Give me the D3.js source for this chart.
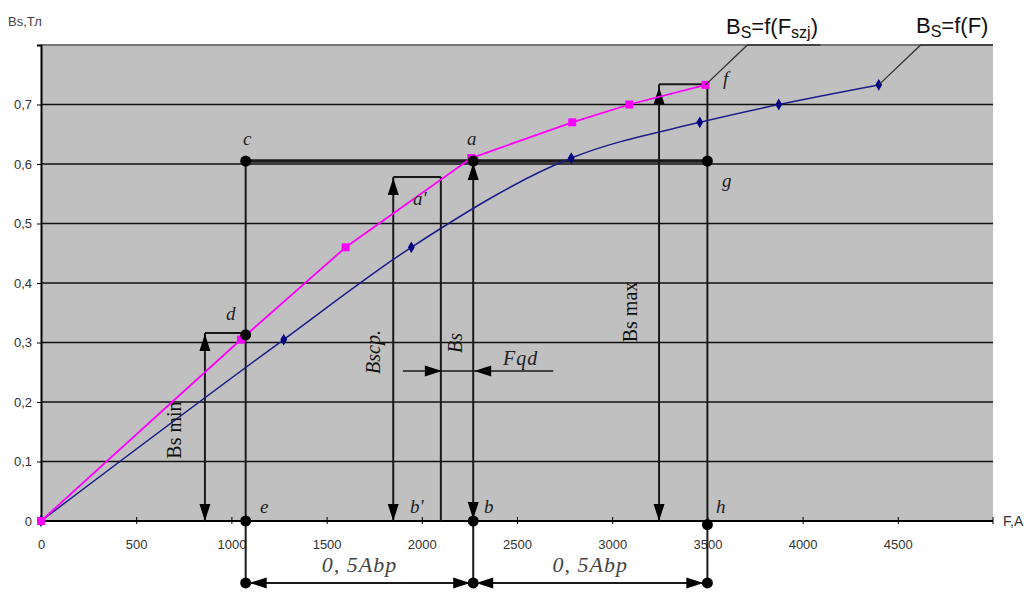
<!DOCTYPE html>
<html><head><meta charset="utf-8">
<script src="https://cdn.jsdelivr.net/npm/d3@7"></script>
<style>html,body{margin:0;padding:0;background:#fff;}svg{display:block;}</style>
</head><body>
<svg id="chart" width="1035" height="592"></svg>
<script>
// ---- data ----
const xTicks = [0, 500, 1000, 1500, 2000, 2500, 3000, 3500, 4000, 4500];
const yTicks = [0, 0.1, 0.2, 0.3, 0.4, 0.5, 0.6, 0.7];
const szjF = [0, 1050, 1600, 2260, 2790, 3090, 3490];
const szjB = [0, 0.305, 0.46, 0.61, 0.67, 0.70, 0.733];
const fullF = [0, 1275, 1945, 2785, 3460, 3875, 4400];
const fullB = [0, 0.305, 0.46, 0.61, 0.67, 0.70, 0.733];
// annotation values (F in A, B in T)
const F_e = 1075, F_bp = 1850, F_bs = 2100, F_b = 2270, F_min = 861, F_max = 3246, F_h = 3500;
const B_c = 0.605, B_d = 0.313, B_scp = 0.578, B_min = 0.316, B_max = 0.734, B_fqd = 0.252, B_brk = -0.104;

const svg = d3.select('#chart');
const x = d3.scaleLinear().domain([0, 5000]).range([41, 993]);
const y = d3.scaleLinear().domain([0, 0.8]).range([521, 45]);

// plot background
svg.append('rect').attr('x', x(0)).attr('y', y(0.8)).attr('width', x(5000) - x(0)).attr('height', y(0) - y(0.8)).attr('fill', '#c0c0c0');
// top border
svg.append('line').attr('x1', x(0)).attr('x2', x(5000)).attr('y1', y(0.8)).attr('y2', y(0.8)).attr('stroke', '#777').attr('stroke-width', 2);
// gridlines
svg.append('g').selectAll('line').data(yTicks.filter(d => d > 0)).join('line')
  .attr('x1', x(0)).attr('x2', x(5000)).attr('y1', d => y(d)).attr('y2', d => y(d))
  .attr('stroke', '#111').attr('stroke-width', 1.6);

// axes
const fmt = d => d === 0 ? '0' : d3.format('.1f')(d).replace('.', ',');
const yAxis = svg.append('g').attr('transform', `translate(${x(0)},0)`)
  .call(d3.axisLeft(y).tickValues(yTicks).tickSize(4).tickFormat(fmt));
yAxis.select('.domain').attr('stroke', '#000').attr('stroke-width', 2);
yAxis.selectAll('text').attr('font-family', 'Arial, Liberation Sans, sans-serif').attr('font-size', 13).attr('fill', '#333').attr('dx', -2);

const xAxis = svg.append('g').attr('transform', `translate(0,${y(0)})`)
  .call(d3.axisBottom(x).tickValues(xTicks).tickSize(4).tickFormat(d => String(d)));
xAxis.select('.domain').attr('stroke', '#000').attr('stroke-width', 2).attr('d', `M${x(0)},0H${x(5000)}`);
xAxis.selectAll('.tick line').attr('y1', -4).attr('y2', 3);
xAxis.selectAll('text').attr('font-family', 'Arial, Liberation Sans, sans-serif').attr('font-size', 13).attr('fill', '#333').attr('dy', '1.6em');
// end tick at 5000
svg.append('line').attr('x1', x(5000)).attr('x2', x(5000)).attr('y1', y(0) - 4).attr('y2', y(0) + 3).attr('stroke', '#000');

svg.append('text').attr('x', 8).attr('y', 26).text('Bs,Тл')
  .attr('font-family', 'Arial, Liberation Sans, sans-serif').attr('font-size', 13).attr('fill', '#444');
svg.append('text').attr('x', 1003).attr('y', y(0) + 5).text('F,A')
  .attr('font-family', 'Arial, Liberation Sans, sans-serif').attr('font-size', 14).attr('fill', '#333');

// construction lines
const ink = '#1a1a1a';
function seg(f1, b1, f2, b2, w) {
  svg.append('line').attr('x1', x(f1)).attr('y1', y(b1)).attr('x2', x(f2)).attr('y2', y(b2))
    .attr('stroke', ink).attr('stroke-width', w || 2);
}
seg(F_e, B_c, F_e, B_brk);
seg(F_b, B_c, F_b, B_brk);
seg(F_h, B_max, F_h, B_brk);
seg(F_e, B_c, F_h, B_c, 3.5);
seg(F_min, B_min, F_min, 0);
seg(F_min, B_min, F_e, B_min);
seg(F_bp, B_scp, F_bp, 0);
seg(F_bp, B_scp, F_bs, B_scp);
seg(F_bs, B_scp, F_bs, 0);
seg(F_max, B_max, F_max, 0);
seg(F_max, B_max, F_h, B_max);
svg.append('line').attr('x1', x(F_bs) - 38).attr('x2', x(F_b) + 80).attr('y1', y(B_fqd)).attr('y2', y(B_fqd)).attr('stroke', ink).attr('stroke-width', 1.5);
seg(F_e, B_brk, F_h, B_brk, 2);

// arrowheads
function arrow(px, py, dir) {
  const L = 17, W = 5.5;
  let p;
  if (dir === 'up') p = [[px, py], [px - W, py + L], [px + W, py + L]];
  else if (dir === 'down') p = [[px, py], [px - W, py - L], [px + W, py - L]];
  else if (dir === 'left') p = [[px, py], [px + L, py - W], [px + L, py + W]];
  else p = [[px, py], [px - L, py - W], [px - L, py + W]];
  svg.append('path').attr('d', 'M' + p.map(q => q.join(',')).join('L') + 'Z').attr('fill', '#000');
}
arrow(x(F_min), y(B_min) + 1, 'up');
arrow(x(F_min), y(0), 'down');
arrow(x(F_bp), y(B_scp) + 1, 'up');
arrow(x(F_bp), y(0), 'down');
arrow(x(F_b), y(B_c) + 2, 'up');
arrow(x(F_b), y(0) - 2, 'down');
arrow(x(F_max), y(B_max) + 3, 'up');
arrow(x(F_max), y(0), 'down');
arrow(x(F_bs) + 1, y(B_fqd), 'right');
arrow(x(F_b) + 1, y(B_fqd), 'left');
arrow(x(F_e) + 4, y(B_brk), 'left');
arrow(x(F_b) - 3, y(B_brk), 'right');
arrow(x(F_b) + 3, y(B_brk), 'left');
arrow(x(F_h) - 4, y(B_brk), 'right');

// series lines
const szj = szjF.map((f, i) => [f, szjB[i]]);
const full = fullF.map((f, i) => [f, fullB[i]]);
const lineSmooth = d3.line().x(d => x(d[0])).y(d => y(d[1])).curve(d3.curveMonotoneX);
const lineStraight = d3.line().x(d => x(d[0])).y(d => y(d[1]));
svg.append('path').attr('d', lineSmooth(full)).attr('fill', 'none').attr('stroke', '#1c1c8a').attr('stroke-width', 1.5);
svg.append('path').attr('d', lineStraight(szj)).attr('fill', 'none').attr('stroke', '#ff00ff').attr('stroke-width', 1.8);
svg.append('g').selectAll('path').data(full).join('path')
  .attr('d', d3.symbol(d3.symbolDiamond, 40)).attr('transform', d => `translate(${x(d[0])},${y(d[1])})`).attr('fill', '#000080');
svg.append('g').selectAll('rect').data(szj).join('rect')
  .attr('x', d => x(d[0]) - 4).attr('y', d => y(d[1]) - 4).attr('width', 8).attr('height', 8).attr('fill', '#ff00ff');

// dots
const dots = [[F_e, B_c], [F_b, B_c], [F_h, B_c], [F_e, B_d], [F_e, 0], [F_b, 0], [F_h, -0.006], [F_e, B_brk], [F_b, B_brk], [F_h, B_brk]];
svg.append('g').selectAll('circle').data(dots).join('circle')
  .attr('cx', d => x(d[0])).attr('cy', d => y(d[1])).attr('r', 5.5).attr('fill', '#000');

// legend leaders
svg.append('path').attr('d', `M${x(3490)},${y(0.733)}L${x(3710)},${y(0.8)}H${x(4095)}`).attr('fill', 'none').attr('stroke', '#333').attr('stroke-width', 1.3);
svg.append('path').attr('d', `M${x(4400)},${y(0.733)}L${x(4620)},${y(0.8)}H${x(5000)}`).attr('fill', 'none').attr('stroke', '#333').attr('stroke-width', 1.3);

function legend(tx, ty, parts) {
  const t = svg.append('text').attr('x', tx).attr('y', ty).attr('font-family', 'Arial, Liberation Sans, sans-serif').attr('font-size', 22).attr('fill', '#111');
  parts.forEach(p => {
    const s = t.append('tspan').text(p[0]);
    if (p[1]) s.attr('font-size', 16).attr('dy', 4); else s.attr('dy', p[2] || 0);
  });
}
legend(726, 34, [['B'], ['S', true], ['=f(F', false, -4], ['szj', true], [')', false, -4]]);
legend(916, 33, [['B'], ['S', true], ['=f(F)', false, -4]]);

// letter labels
const serif = 'Liberation Serif, Times New Roman, serif';
const letters = [['c', 243, 145], ['a', 467, 145], ['a\'', 413, 205], ['d', 226, 320], ['e', 260, 513], ['b\'', 410, 513], ['b', 484, 513], ['h', 716, 513], ['f', 723, 85], ['g', 722, 187]];
svg.append('g').selectAll('text').data(letters).join('text')
  .attr('x', d => d[1]).attr('y', d => d[2]).text(d => d[0])
  .attr('font-family', serif).attr('font-style', 'italic').attr('font-size', 19).attr('fill', '#222');

// rotated labels
const rot = [['Bs min', 174, 430, 'normal'], ['Bscp.', 373, 352, 'italic'], ['Bs', 455, 343, 'italic'], ['Bs max', 630, 312, 'normal']];
rot.forEach(r => {
  svg.append('text').attr('transform', `translate(${r[1]},${r[2]}) rotate(-90)`)
    .attr('text-anchor', 'middle').attr('dominant-baseline', 'central').text(r[0])
    .attr('font-family', serif).attr('font-style', r[3]).attr('font-size', 20).attr('fill', '#111');
});
svg.append('text').attr('x', 503).attr('y', 365).text('Fqd')
  .attr('font-family', serif).attr('font-style', 'italic').attr('font-size', 20).attr('fill', '#222').attr('letter-spacing', 1);

// bottom labels
[[(x(F_e) + x(F_b)) / 2, 572], [(x(F_b) + x(F_h)) / 2, 572]].forEach(p => {
  svg.append('text').attr('x', p[0]).attr('y', p[1]).attr('text-anchor', 'middle').text('0, 5Abp')
    .attr('font-family', serif).attr('font-style', 'italic').attr('font-size', 22).attr('fill', '#444').attr('letter-spacing', 1);
});
</script>
</body></html>
